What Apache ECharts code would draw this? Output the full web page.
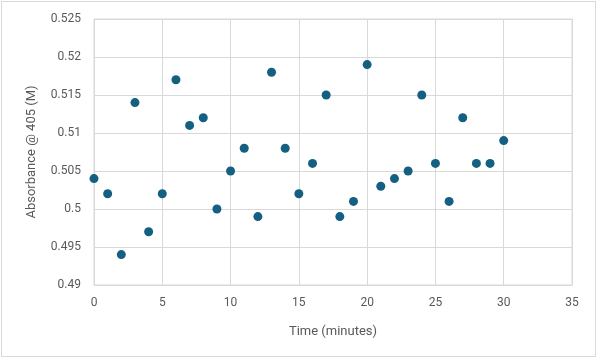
<!DOCTYPE html>
<html><head><meta charset="utf-8">
<script src="https://cdn.jsdelivr.net/npm/echarts@6/dist/echarts.min.js"></script>
<style>
html,body{margin:0;padding:0;background:#fff;}
#frame{position:absolute;left:1px;top:1px;width:595px;height:356px;border:1px solid #d9d9d9;box-sizing:border-box;}
#chart{position:absolute;left:0;top:0;width:600px;height:361px;}
</style></head>
<body>
<div id="frame"></div>
<div id="chart"></div>
<script>
const timeMinutes = [0,1,2,3,4,5,6,7,8,9,10,11,12,13,14,15,16,17,18,19,20,21,22,23,24,25,26,27,28,29,30];
const absorbance = [0.504,0.502,0.494,0.514,0.497,0.502,0.517,0.511,0.512,0.500,0.505,0.508,0.499,0.518,0.508,0.502,0.506,0.515,0.499,0.501,0.519,0.503,0.504,0.505,0.515,0.506,0.501,0.512,0.506,0.506,0.509];
const xTitle = 'Time (minutes)';
const yTitle = 'Absorbance @ 405 (M)';

const points = timeMinutes.map((t,i)=>[t,absorbance[i]]);
const chart = echarts.init(document.getElementById('chart'), null, {renderer:'canvas'});
const font = 'Roboto, "Liberation Sans", sans-serif';
chart.setOption({
  animation:false,
  backgroundColor:'transparent',
  grid:{left:94,right:28,top:19,bottom:76,show:true,borderColor:'#d9d9d9',borderWidth:1},
  xAxis:{type:'value',min:0,max:35,interval:5,
    name:xTitle,nameLocation:'middle',nameGap:40,
    nameTextStyle:{color:'#595959',fontSize:13,fontFamily:font},
    axisLine:{show:true,lineStyle:{color:'#d9d9d9'}},
    axisTick:{show:false},
    axisLabel:{color:'#595959',fontSize:12,fontFamily:font,margin:12},
    splitLine:{show:true,lineStyle:{color:'#d9d9d9',width:1}}},
  yAxis:{type:'value',min:0.49,max:0.525,interval:0.005,
    name:yTitle,nameLocation:'middle',nameGap:56,
    nameTextStyle:{color:'#595959',fontSize:13,fontFamily:font},
    axisLine:{show:true,lineStyle:{color:'#d9d9d9'}},
    axisTick:{show:false},
    axisLabel:{color:'#595959',fontSize:12,fontFamily:font,margin:13,
      formatter:v=>String(parseFloat(v.toFixed(3)))},
    splitLine:{show:true,lineStyle:{color:'#d9d9d9',width:1}}},
  series:[{type:'scatter',data:points,symbol:'circle',symbolSize:9,
    itemStyle:{color:'#156082',opacity:1}}]
});
</script>
</body></html>
